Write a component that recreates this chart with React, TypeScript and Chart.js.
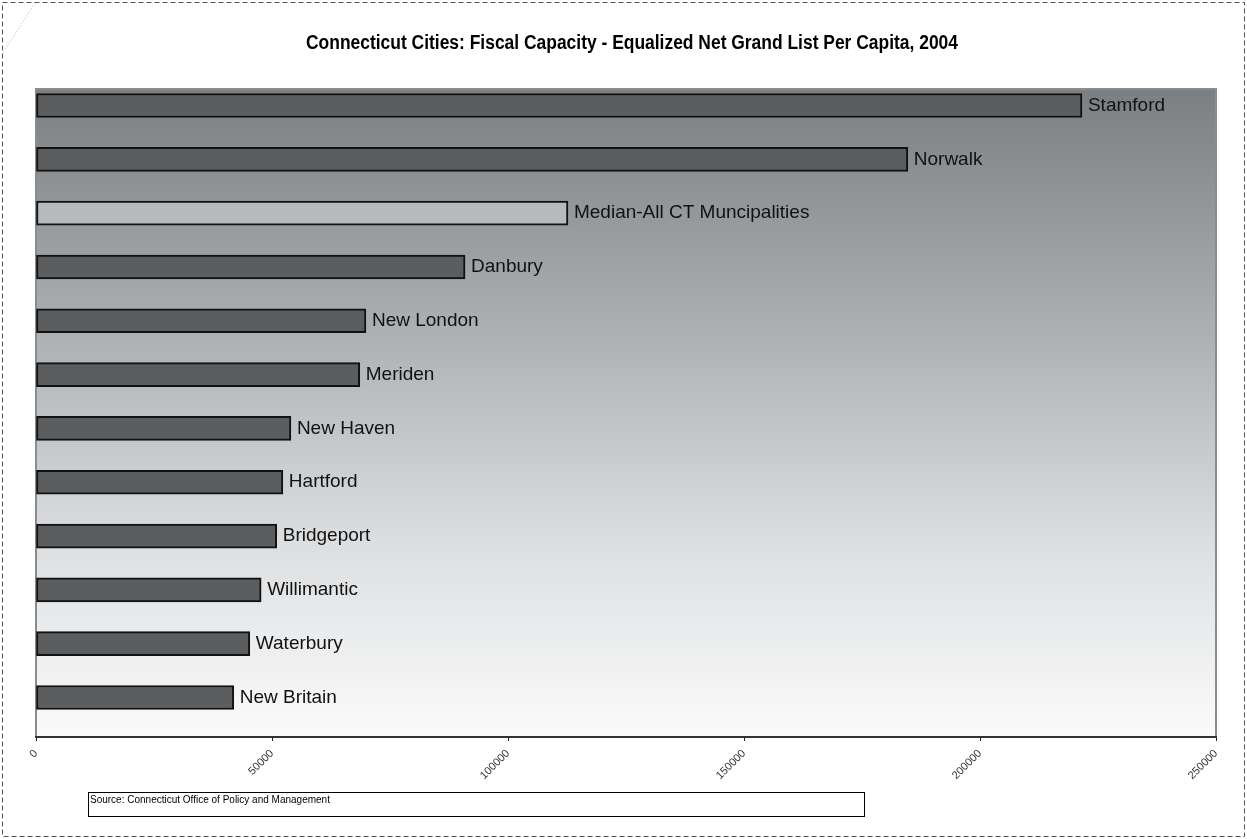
import React, { useEffect, useRef } from "react";
import { Chart, registerables } from "chart.js";

Chart.register(...registerables);

const TITLE = "Connecticut Cities: Fiscal Capacity - Equalized Net Grand List Per Capita, 2004";
const SOURCE = "Source: Connecticut Office of Policy and Management";

const cities = [
  "Stamford",
  "Norwalk",
  "Median-All CT Muncipalities",
  "Danbury",
  "New London",
  "Meriden",
  "New Haven",
  "Hartford",
  "Bridgeport",
  "Willimantic",
  "Waterbury",
  "New Britain",
];
const capacity = [221600, 184700, 112700, 90900, 69900, 68600, 54000, 52300, 51000, 47700, 45300, 41900];
const barColors = [
  "#5c5d5f", "#5c5d5f", "#b7babd", "#5c5d5f", "#5c5d5f", "#5c5d5f",
  "#5c5d5f", "#5c5d5f", "#5c5d5f", "#5c5d5f", "#5c5d5f", "#5c5d5f",
];
const xTicks = [0, 50000, 100000, 150000, 200000, 250000];

const framePlugin = {
  id: "frame",
  beforeDraw(chart: any) {
    const { ctx, chartArea: a, width, height } = chart;
    ctx.save();
    ctx.fillStyle = "#ffffff";
    ctx.fillRect(0, 0, width, height);
    // outer dashed border
    ctx.strokeStyle = "#555";
    ctx.lineWidth = 1;
    ctx.setLineDash([5, 3]);
    ctx.strokeRect(2.5, 2.5, width - 5, height - 5);
    ctx.setLineDash([1, 2]);
    ctx.strokeStyle = "#bbb";
    ctx.beginPath();
    ctx.moveTo(35, 3);
    ctx.lineTo(3, 53);
    ctx.stroke();
    ctx.setLineDash([]);
    // title (Arial Narrow look: bold, horizontally condensed)
    ctx.font = "bold 20px 'Liberation Sans', Arial, sans-serif";
    const w = ctx.measureText(TITLE).width;
    const sx = 652 / w;
    ctx.save();
    ctx.translate(632, 43);
    ctx.scale(sx, 1);
    ctx.fillStyle = "#000";
    ctx.textAlign = "center";
    ctx.textBaseline = "middle";
    ctx.fillText(TITLE, 0, 0);
    ctx.restore();
    // plot gradient
    const g = ctx.createLinearGradient(0, a.top, 0, a.bottom);
    g.addColorStop(0, "#7b7f82");
    g.addColorStop(0.35, "#a9adb0");
    g.addColorStop(0.7, "#dcdee0");
    g.addColorStop(1, "#fbfbfb");
    ctx.fillStyle = g;
    ctx.fillRect(a.left, a.top, a.right - a.left, a.bottom - a.top);
    ctx.strokeStyle = "#8a8d90";
    ctx.lineWidth = 2;
    ctx.beginPath();
    ctx.moveTo(a.left, a.bottom);
    ctx.lineTo(a.left, a.top);
    ctx.lineTo(a.right, a.top);
    ctx.lineTo(a.right, a.bottom);
    ctx.stroke();
    // source box
    ctx.fillStyle = "#fff";
    ctx.fillRect(88, 792, 776, 24);
    ctx.strokeStyle = "#000";
    ctx.lineWidth = 1;
    ctx.strokeRect(88.5, 792.5, 776, 24);
    ctx.fillStyle = "#000";
    ctx.font = "10px 'Liberation Sans', Arial, sans-serif";
    ctx.textBaseline = "middle";
    ctx.textAlign = "left";
    ctx.fillText(SOURCE, 90, 800);
    ctx.restore();
  },
  afterDatasetsDraw(chart: any) {
    const { ctx } = chart;
    const meta = chart.getDatasetMeta(0);
    ctx.save();
    ctx.fillStyle = "#111";
    ctx.font = "19px 'Liberation Sans', Arial, sans-serif";
    ctx.textBaseline = "middle";
    ctx.textAlign = "left";
    meta.data.forEach((bar: any, i: number) => {
      ctx.fillText(cities[i], bar.x + 6, bar.y);
    });
    ctx.restore();
  },
};

export default function App() {
  const ref = useRef<HTMLCanvasElement>(null);
  useEffect(() => {
    document.body.style.margin = "0";
    const chart = new Chart(ref.current!, {
      type: "bar",
      data: {
        datasets: [
          {
            data: capacity.map((v, i) => ({ x: v, y: i })),
            backgroundColor: barColors,
            borderColor: "#111",
            borderWidth: 2,
            borderSkipped: false,
            barThickness: 24,
          } as any,
        ],
      },
      options: {
        indexAxis: "y",
        animation: false,
        responsive: false,
        devicePixelRatio: 1,
        layout: { padding: { left: 36, right: 31, top: 89, bottom: 0 } },
        plugins: {
          legend: { display: false },
          tooltip: { enabled: false },
          title: { display: false },
        },
        scales: {
          x: {
            type: "linear",
            min: 0,
            max: 250000,
            afterBuildTicks: (s: any) => {
              s.ticks = xTicks.map((v) => ({ value: v }));
            },
            afterFit: (s: any) => {
              s.height = 102;
            },
            grid: { drawOnChartArea: false, tickLength: 4, color: "#222", lineWidth: 1 },
            border: { display: true, color: "#333", width: 2 },
            ticks: {
              minRotation: 45,
              maxRotation: 45,
              color: "#333",
              padding: 6,
              autoSkip: false,
              font: { family: "'Liberation Sans', Arial, sans-serif", size: 11 },
              callback: (v: any) => String(v),
            },
          },
          y: {
            type: "linear",
            reverse: true,
            offset: false,
            grace: 0,
            min: -0.307,
            max: 11.734,
            display: false,
          },
        },
      },
      plugins: [framePlugin],
    });
    return () => chart.destroy();
  }, []);
  return (
    <div style={{ position: "absolute", left: 0, top: 0, width: 1247, height: 839 }}>
      <canvas ref={ref} width={1247} height={839} style={{ width: 1247, height: 839 }} />
    </div>
  );
}
